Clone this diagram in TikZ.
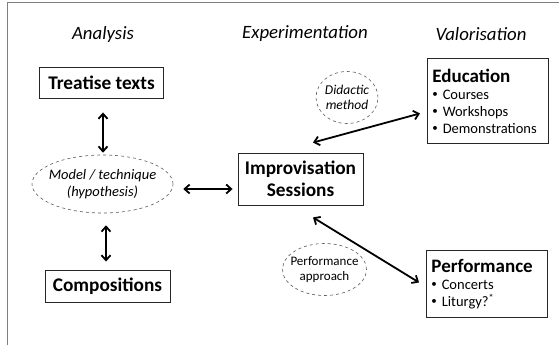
\documentclass[tikz,border=0pt]{standalone}
\usepackage{fontspec}
\setmainfont{Carlito}
\usetikzlibrary{arrows.meta, positioning, shapes.geometric}

\newcommand{\bul}{\raisebox{0.12em}{\fontsize{11}{11}\selectfont\textbullet}\ }

\begin{document}
\begin{tikzpicture}[
    x=1pt, y=-1pt,
    heading/.style={
        font=\fontsize{18.8}{20}\selectfont\itshape
    },
    block/.style={
        draw=black!85,
        line width=0.9pt,
        align=center,
        inner sep=2pt,
        font=\fontsize{19.3}{22}\selectfont\bfseries
    },
    listblock/.style={
        draw=black!85,
        line width=0.9pt,
        align=left,
        anchor=north west,
        inner sep=5pt,
        text width=111pt,
        font=\fontsize{14.5}{17}\selectfont
    },
    idea/.style={
        draw=black!65,
        dashed,
        line width=0.6pt,
        ellipse,
        inner sep=0pt
    },
    ideatext/.style={
        align=center,
        inner sep=0pt
    },
    link/.style={
        line width=1.8pt,
        {Straight Barb[length=5pt,width=9pt]}-{Straight Barb[length=5pt,width=9pt]}
    }
]
\useasboundingbox (0,0) rectangle (559,345);

% Frame
\draw[gray, line width=1pt] (559,3) -- (7,3) -- (7,345);

% Column headings
\node[heading] (h_ana) at (103,34) {Analysis};
\node[heading] (h_exp) at (305,34) {Experimentation};
\node[heading] (h_val) at (481,34) {Valorisation};

% Analysis column
\node[block, minimum width=124pt, minimum height=31pt] (treat) at (101.5,83) {Treatise texts};
\node[idea, minimum width=141pt, minimum height=58pt] (model) at (102.5,184) {};
\node[ideatext, font=\fontsize{14.5}{16.5}\selectfont\itshape] (model_t) at (model.center) {Model / technique\\(hypothesis)};
\node[block, minimum width=125pt, minimum height=32pt] (comp) at (107.5,286) {Compositions};

% Experimentation column
\node[block, minimum width=125pt, minimum height=52pt] (impro) at (300.5,179) {Improvisation\\Sessions};
\node[idea, minimum width=62pt, minimum height=52pt] (didac) at (347,97.5) {};
\node[ideatext, font=\fontsize{13.5}{15}\selectfont\itshape] (didac_t) at (didac.center) {Didactic\\method};
\node[idea, minimum width=84pt, minimum height=52pt] (perfap) at (324.5,269.5) {};
\node[ideatext, font=\fontsize{13}{15}\selectfont] (perfap_t) at (perfap.center) {Performance\\approach};

% Valorisation column
\node[listblock, minimum height=85pt] (edu) at (427,58) {{\fontsize{19}{21}\selectfont\bfseries Education}\\
    \bul Courses\\
    \bul Workshops\\
    \bul Demonstrations};
\node[listblock, minimum height=67pt] (perf) at (426,250) {{\fontsize{19}{21}\selectfont\bfseries Performance}\\
    \bul Concerts\\
    \bul Liturgy?\textsuperscript{*}};

% Connections
\draw[link] ([shift={(1.5,13.5)}]treat.south) -- ([shift={(0.5,-2)}]model.north);
\draw[link] ([shift={(3.5,12)}]model.south) -- ([shift={(-1.5,-8)}]comp.north);
\draw[link] ([shift={(10,5)}]model.east) -- ([shift={(-5,10)}]impro.west);
\draw[link] ([shift={(12.5,-10)}]impro.north) -- ([shift={(-7,12.5)}]edu.west);
\draw[link] ([shift={(12.5,12)}]impro.south) -- ([shift={(-7,-1.5)}]perf.west);

\end{tikzpicture}
\end{document}
